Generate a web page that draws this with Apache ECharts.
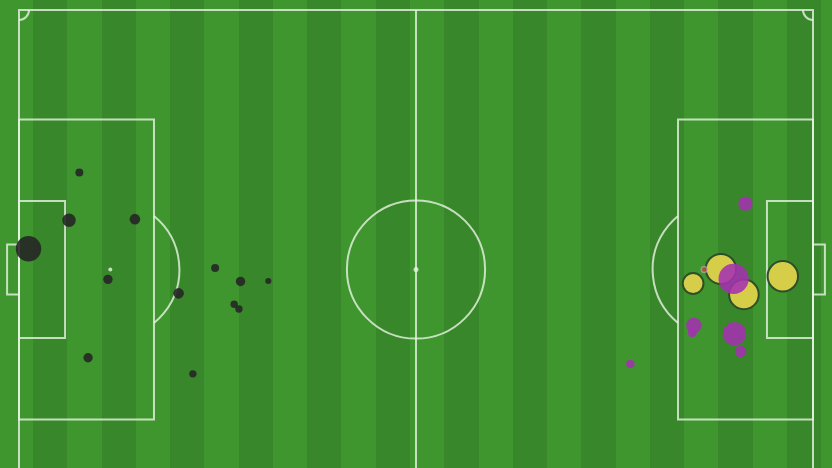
<!DOCTYPE html>
<html><head><meta charset="utf-8">
<script src="https://cdn.jsdelivr.net/npm/echarts@6/dist/echarts.min.js"></script>
<style>
html,body{margin:0;padding:0;background:#3f962e;overflow:hidden;width:832px;height:468px;}
#c{width:832px;height:540px;background:repeating-linear-gradient(90deg,#3f962e -1.27px,#3f962e 33px,#38872a 33px,#38872a 67.27px);}
</style></head><body><div id="c"></div>
<script>
// Shot data in Opta pitch coordinates [x (0-100, length), y (0-100 from top touchline), xG]
const leftTeamShots = [
  [7.6,31.3,0.04],[6.3,40.5,0.112],[14.6,40.3,0.07],[1.2,46.0,0.403],[11.2,51.9,0.055],
  [20.1,54.6,0.07],[24.7,49.7,0.04],[27.9,52.3,0.055],[31.4,52.2,0.023],[27.1,56.7,0.034],
  [27.7,57.6,0.034],[8.7,67.0,0.055],[21.9,70.1,0.034]
];
const rightTeamGoals = [
  [88.4,49.9,0.57],[84.9,52.7,0.27],[91.3,54.8,0.55],[96.2,51.3,0.58]
];
const rightTeamShots = [
  [91.5,37.3,0.13],[90.0,51.8,0.57],[85.0,60.8,0.15],[84.8,62.2,0.05],
  [90.1,62.4,0.34],[90.9,65.8,0.08],[77.0,68.2,0.046]
];
const rightTeamBlocked = [[86.3,50.0,0.02]];

const LINE = 'rgba(232,244,228,0.8)';
function sz(v){ return 40*Math.sqrt(v[2]); }

function pitchRender(params, api){
  const c = (x,y)=>api.coord([x,y]);
  const ux = api.size([1,1])[0];
  const st = {stroke:LINE, lineWidth:2, fill:'none'};
  const ch = [];
  function rect(x0,y0,x1,y1){
    const a=c(x0,y0), b=c(x1,y1);
    ch.push({type:'rect', shape:{x:Math.min(a[0],b[0]), y:Math.min(a[1],b[1]), width:Math.abs(b[0]-a[0]), height:Math.abs(b[1]-a[1])}, style:st});
  }
  function line(x0,y0,x1,y1){
    const a=c(x0,y0), b=c(x1,y1);
    ch.push({type:'line', shape:{x1:a[0],y1:a[1],x2:b[0],y2:b[1]}, style:st});
  }
  function arc(x,y,r,s,e){
    const a=c(x,y);
    ch.push({type:'arc', shape:{cx:a[0],cy:a[1],r:r,startAngle:s,endAngle:e,clockwise:true}, style:st});
  }
  function dot(x,y,r){
    const a=c(x,y);
    ch.push({type:'circle', shape:{cx:a[0],cy:a[1],r:r}, style:{fill:LINE}});
  }
  rect(0,0,100,100);
  line(50,0,50,100);
  const R = 8.7*ux;
  arc(50,50,R,0,Math.PI*2);
  dot(50,50,2.5);
  rect(0,21.1,17,78.9); rect(83,21.1,100,78.9);
  rect(0,36.8,5.8,63.2); rect(94.2,36.8,100,63.2);
  rect(-1.5,45.2,0,54.8); rect(100,45.2,101.5,54.8);
  dot(11.5,50,2); dot(88.5,50,2);
  const th = Math.acos((17-11.5)*ux/R);
  arc(11.5,50,R,-th,th);
  arc(88.5,50,R,Math.PI-th,Math.PI+th);
  const cr = 10;
  arc(0,0,cr,0,Math.PI/2);
  arc(100,0,cr,Math.PI/2,Math.PI);
  return {type:'group', children:ch};
}

const chart = echarts.init(document.getElementById('c'));
chart.setOption({
  animation:false,
  grid:{left:19, top:10, width:794, height:519},
  xAxis:{type:'value', min:0, max:100, show:false},
  yAxis:{type:'value', min:0, max:100, inverse:true, show:false},
  series:[
    {type:'custom', data:[[0,0]], renderItem:pitchRender, silent:true, clip:false, z:1},
    {type:'scatter', data:leftTeamShots, symbolSize:sz, clip:false, z:2,
      itemStyle:{color:'#262626', opacity:0.9}},
    {type:'scatter', data:rightTeamGoals, symbolSize:sz, clip:false, z:3,
      itemStyle:{color:'#d6cd48', borderColor:'#2c4f2a', borderWidth:2, opacity:1}},
    {type:'scatter', data:rightTeamShots, symbolSize:sz, clip:false, z:4,
      itemStyle:{color:'#a531b1', opacity:0.88}},
    {type:'scatter', data:rightTeamBlocked, symbolSize:6, clip:false, z:5,
      itemStyle:{color:'#c9473c', borderColor:'rgba(170,180,190,0.8)', borderWidth:1.5}}
  ]
});
</script></body></html>
